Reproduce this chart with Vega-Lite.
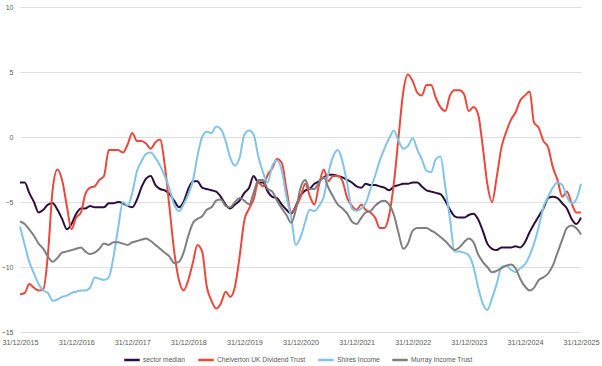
{
  "$schema": "https://vega.github.io/schema/vega-lite/v6.json",
  "width": 561,
  "height": 325,
  "autosize": {"type": "none"},
  "padding": {"left": 20, "top": 7, "right": 21, "bottom": 34},
  "background": "white",
  "config": {"view": {"stroke": null}, "font": "Liberation Sans"},
  "data": {"values": [
    {"date":"2015-12-31","sector median":-3.5,"Chelverton UK Dividend Trust":-12.1,"Shires Income":-6.9,"Murray Income Trust":-6.5},
    {"date":"2016-01-31","sector median":-3.5,"Chelverton UK Dividend Trust":-12.0,"Shires Income":-8.3,"Murray Income Trust":-6.7},
    {"date":"2016-02-29","sector median":-4.3,"Chelverton UK Dividend Trust":-11.3,"Shires Income":-9.6,"Murray Income Trust":-7.1},
    {"date":"2016-03-31","sector median":-5.0,"Chelverton UK Dividend Trust":-11.6,"Shires Income":-10.5,"Murray Income Trust":-7.6},
    {"date":"2016-04-30","sector median":-5.8,"Chelverton UK Dividend Trust":-11.8,"Shires Income":-11.3,"Murray Income Trust":-8.2},
    {"date":"2016-05-31","sector median":-5.6,"Chelverton UK Dividend Trust":-11.7,"Shires Income":-11.8,"Murray Income Trust":-8.6},
    {"date":"2016-06-30","sector median":-5.2,"Chelverton UK Dividend Trust":-9.0,"Shires Income":-12.0,"Murray Income Trust":-9.2},
    {"date":"2016-07-31","sector median":-5.1,"Chelverton UK Dividend Trust":-4.0,"Shires Income":-12.6,"Murray Income Trust":-9.6},
    {"date":"2016-08-31","sector median":-5.6,"Chelverton UK Dividend Trust":-2.5,"Shires Income":-12.5,"Murray Income Trust":-9.3},
    {"date":"2016-09-30","sector median":-6.3,"Chelverton UK Dividend Trust":-3.3,"Shires Income":-12.3,"Murray Income Trust":-8.9},
    {"date":"2016-10-31","sector median":-7.1,"Chelverton UK Dividend Trust":-5.3,"Shires Income":-12.2,"Murray Income Trust":-8.8},
    {"date":"2016-11-30","sector median":-6.7,"Chelverton UK Dividend Trust":-7.1,"Shires Income":-12.0,"Murray Income Trust":-8.7},
    {"date":"2016-12-31","sector median":-5.9,"Chelverton UK Dividend Trust":-6.2,"Shires Income":-11.9,"Murray Income Trust":-8.6},
    {"date":"2017-01-31","sector median":-5.5,"Chelverton UK Dividend Trust":-5.8,"Shires Income":-11.8,"Murray Income Trust":-8.5},
    {"date":"2017-02-28","sector median":-5.5,"Chelverton UK Dividend Trust":-4.4,"Shires Income":-11.8,"Murray Income Trust":-8.8},
    {"date":"2017-03-31","sector median":-5.3,"Chelverton UK Dividend Trust":-3.9,"Shires Income":-11.6,"Murray Income Trust":-9.0},
    {"date":"2017-04-30","sector median":-5.4,"Chelverton UK Dividend Trust":-3.8,"Shires Income":-10.8,"Murray Income Trust":-8.9},
    {"date":"2017-05-31","sector median":-5.4,"Chelverton UK Dividend Trust":-3.3,"Shires Income":-10.9,"Murray Income Trust":-8.6},
    {"date":"2017-06-30","sector median":-5.4,"Chelverton UK Dividend Trust":-3.0,"Shires Income":-11.0,"Murray Income Trust":-8.2},
    {"date":"2017-07-31","sector median":-5.1,"Chelverton UK Dividend Trust":-1.0,"Shires Income":-10.8,"Murray Income Trust":-8.3},
    {"date":"2017-08-31","sector median":-5.1,"Chelverton UK Dividend Trust":-1.0,"Shires Income":-9.2,"Murray Income Trust":-8.1},
    {"date":"2017-09-30","sector median":-5.0,"Chelverton UK Dividend Trust":-1.0,"Shires Income":-7.0,"Murray Income Trust":-8.1},
    {"date":"2017-10-31","sector median":-5.1,"Chelverton UK Dividend Trust":-1.2,"Shires Income":-5.0,"Murray Income Trust":-8.2},
    {"date":"2017-11-30","sector median":-5.3,"Chelverton UK Dividend Trust":-0.6,"Shires Income":-5.3,"Murray Income Trust":-8.3},
    {"date":"2017-12-31","sector median":-5.4,"Chelverton UK Dividend Trust":0.3,"Shires Income":-4.3,"Murray Income Trust":-8.1},
    {"date":"2018-01-31","sector median":-4.8,"Chelverton UK Dividend Trust":-0.3,"Shires Income":-2.6,"Murray Income Trust":-8.0},
    {"date":"2018-02-28","sector median":-3.9,"Chelverton UK Dividend Trust":-0.3,"Shires Income":-1.9,"Murray Income Trust":-7.9},
    {"date":"2018-03-31","sector median":-3.2,"Chelverton UK Dividend Trust":-0.5,"Shires Income":-1.3,"Murray Income Trust":-7.8},
    {"date":"2018-04-30","sector median":-3.0,"Chelverton UK Dividend Trust":-0.9,"Shires Income":-1.2,"Murray Income Trust":-8.0},
    {"date":"2018-05-31","sector median":-3.7,"Chelverton UK Dividend Trust":-0.4,"Shires Income":-1.6,"Murray Income Trust":-8.3},
    {"date":"2018-06-30","sector median":-4.0,"Chelverton UK Dividend Trust":-0.2,"Shires Income":-2.2,"Murray Income Trust":-8.6},
    {"date":"2018-07-31","sector median":-4.1,"Chelverton UK Dividend Trust":-2.2,"Shires Income":-3.0,"Murray Income Trust":-8.9},
    {"date":"2018-08-31","sector median":-4.4,"Chelverton UK Dividend Trust":-5.5,"Shires Income":-4.0,"Murray Income Trust":-9.2},
    {"date":"2018-09-30","sector median":-4.9,"Chelverton UK Dividend Trust":-8.8,"Shires Income":-5.2,"Murray Income Trust":-9.7},
    {"date":"2018-10-31","sector median":-5.4,"Chelverton UK Dividend Trust":-11.0,"Shires Income":-5.7,"Murray Income Trust":-9.6},
    {"date":"2018-11-30","sector median":-5.0,"Chelverton UK Dividend Trust":-11.8,"Shires Income":-5.2,"Murray Income Trust":-8.9},
    {"date":"2018-12-31","sector median":-4.0,"Chelverton UK Dividend Trust":-11.0,"Shires Income":-4.4,"Murray Income Trust":-7.6},
    {"date":"2019-01-31","sector median":-3.4,"Chelverton UK Dividend Trust":-9.6,"Shires Income":-3.3,"Murray Income Trust":-6.6},
    {"date":"2019-02-28","sector median":-3.4,"Chelverton UK Dividend Trust":-8.3,"Shires Income":-1.5,"Murray Income Trust":-6.3},
    {"date":"2019-03-31","sector median":-3.9,"Chelverton UK Dividend Trust":-8.8,"Shires Income":0.0,"Murray Income Trust":-6.1},
    {"date":"2019-04-30","sector median":-4.0,"Chelverton UK Dividend Trust":-11.5,"Shires Income":0.4,"Murray Income Trust":-5.6},
    {"date":"2019-05-31","sector median":-4.1,"Chelverton UK Dividend Trust":-12.6,"Shires Income":0.3,"Murray Income Trust":-5.4},
    {"date":"2019-06-30","sector median":-4.2,"Chelverton UK Dividend Trust":-13.2,"Shires Income":0.8,"Murray Income Trust":-4.9},
    {"date":"2019-07-31","sector median":-4.6,"Chelverton UK Dividend Trust":-12.8,"Shires Income":0.6,"Murray Income Trust":-4.8},
    {"date":"2019-08-31","sector median":-5.2,"Chelverton UK Dividend Trust":-11.9,"Shires Income":-0.3,"Murray Income Trust":-5.3},
    {"date":"2019-09-30","sector median":-5.5,"Chelverton UK Dividend Trust":-12.3,"Shires Income":-1.6,"Murray Income Trust":-5.4},
    {"date":"2019-10-31","sector median":-5.2,"Chelverton UK Dividend Trust":-11.5,"Shires Income":-2.2,"Murray Income Trust":-5.0},
    {"date":"2019-11-30","sector median":-4.9,"Chelverton UK Dividend Trust":-9.2,"Shires Income":-1.6,"Murray Income Trust":-4.7},
    {"date":"2019-12-31","sector median":-4.3,"Chelverton UK Dividend Trust":-6.4,"Shires Income":0.2,"Murray Income Trust":-4.9},
    {"date":"2020-01-31","sector median":-3.9,"Chelverton UK Dividend Trust":-5.5,"Shires Income":0.5,"Murray Income Trust":-5.2},
    {"date":"2020-02-29","sector median":-3.0,"Chelverton UK Dividend Trust":-4.8,"Shires Income":0.2,"Murray Income Trust":-4.3},
    {"date":"2020-03-31","sector median":-3.5,"Chelverton UK Dividend Trust":-3.5,"Shires Income":-1.5,"Murray Income Trust":-3.3},
    {"date":"2020-04-30","sector median":-3.5,"Chelverton UK Dividend Trust":-3.8,"Shires Income":-2.7,"Murray Income Trust":-3.3},
    {"date":"2020-05-31","sector median":-4.2,"Chelverton UK Dividend Trust":-2.9,"Shires Income":-3.5,"Murray Income Trust":-4.0},
    {"date":"2020-06-30","sector median":-4.6,"Chelverton UK Dividend Trust":-2.4,"Shires Income":-2.2,"Murray Income Trust":-4.2},
    {"date":"2020-07-31","sector median":-4.7,"Chelverton UK Dividend Trust":-1.7,"Shires Income":-1.8,"Murray Income Trust":-4.9},
    {"date":"2020-08-31","sector median":-5.2,"Chelverton UK Dividend Trust":-2.0,"Shires Income":-2.6,"Murray Income Trust":-5.5},
    {"date":"2020-09-30","sector median":-5.6,"Chelverton UK Dividend Trust":-4.0,"Shires Income":-4.6,"Murray Income Trust":-6.0},
    {"date":"2020-10-31","sector median":-5.9,"Chelverton UK Dividend Trust":-5.8,"Shires Income":-6.2,"Murray Income Trust":-6.6},
    {"date":"2020-11-30","sector median":-5.3,"Chelverton UK Dividend Trust":-5.4,"Shires Income":-8.3,"Murray Income Trust":-5.6},
    {"date":"2020-12-31","sector median":-4.5,"Chelverton UK Dividend Trust":-4.6,"Shires Income":-7.7,"Murray Income Trust":-3.9},
    {"date":"2021-01-31","sector median":-4.1,"Chelverton UK Dividend Trust":-3.6,"Shires Income":-6.5,"Murray Income Trust":-3.3},
    {"date":"2021-02-28","sector median":-4.0,"Chelverton UK Dividend Trust":-4.5,"Shires Income":-5.6,"Murray Income Trust":-4.0},
    {"date":"2021-03-31","sector median":-3.6,"Chelverton UK Dividend Trust":-5.2,"Shires Income":-5.7,"Murray Income Trust":-4.0},
    {"date":"2021-04-30","sector median":-3.4,"Chelverton UK Dividend Trust":-3.7,"Shires Income":-5.3,"Murray Income Trust":-3.5},
    {"date":"2021-05-31","sector median":-3.1,"Chelverton UK Dividend Trust":-2.5,"Shires Income":-4.6,"Murray Income Trust":-3.1},
    {"date":"2021-06-30","sector median":-2.9,"Chelverton UK Dividend Trust":-3.4,"Shires Income":-2.8,"Murray Income Trust":-3.9},
    {"date":"2021-07-31","sector median":-2.9,"Chelverton UK Dividend Trust":-3.0,"Shires Income":-1.5,"Murray Income Trust":-4.6},
    {"date":"2021-08-31","sector median":-3.0,"Chelverton UK Dividend Trust":-3.0,"Shires Income":-1.0,"Murray Income Trust":-5.2},
    {"date":"2021-09-30","sector median":-3.1,"Chelverton UK Dividend Trust":-3.4,"Shires Income":-1.9,"Murray Income Trust":-5.5},
    {"date":"2021-10-31","sector median":-3.3,"Chelverton UK Dividend Trust":-4.7,"Shires Income":-3.6,"Murray Income Trust":-5.9},
    {"date":"2021-11-30","sector median":-3.5,"Chelverton UK Dividend Trust":-5.3,"Shires Income":-5.5,"Murray Income Trust":-6.5},
    {"date":"2021-12-31","sector median":-3.8,"Chelverton UK Dividend Trust":-5.6,"Shires Income":-5.7,"Murray Income Trust":-6.7},
    {"date":"2022-01-31","sector median":-3.9,"Chelverton UK Dividend Trust":-5.2,"Shires Income":-5.5,"Murray Income Trust":-6.2},
    {"date":"2022-02-28","sector median":-3.6,"Chelverton UK Dividend Trust":-5.6,"Shires Income":-5.1,"Murray Income Trust":-5.8},
    {"date":"2022-03-31","sector median":-3.7,"Chelverton UK Dividend Trust":-5.8,"Shires Income":-4.0,"Murray Income Trust":-5.7},
    {"date":"2022-04-30","sector median":-3.7,"Chelverton UK Dividend Trust":-6.2,"Shires Income":-3.0,"Murray Income Trust":-5.3},
    {"date":"2022-05-31","sector median":-3.8,"Chelverton UK Dividend Trust":-7.0,"Shires Income":-1.8,"Murray Income Trust":-5.0},
    {"date":"2022-06-30","sector median":-3.9,"Chelverton UK Dividend Trust":-7.0,"Shires Income":-0.9,"Murray Income Trust":-4.9},
    {"date":"2022-07-31","sector median":-4.1,"Chelverton UK Dividend Trust":-6.0,"Shires Income":-0.1,"Murray Income Trust":-5.2},
    {"date":"2022-08-31","sector median":-3.8,"Chelverton UK Dividend Trust":-3.5,"Shires Income":0.5,"Murray Income Trust":-6.0},
    {"date":"2022-09-30","sector median":-3.7,"Chelverton UK Dividend Trust":0.0,"Shires Income":-0.3,"Murray Income Trust":-7.4},
    {"date":"2022-10-31","sector median":-3.6,"Chelverton UK Dividend Trust":3.5,"Shires Income":-0.9,"Murray Income Trust":-8.6},
    {"date":"2022-11-30","sector median":-3.6,"Chelverton UK Dividend Trust":4.8,"Shires Income":-0.7,"Murray Income Trust":-8.2},
    {"date":"2022-12-31","sector median":-3.5,"Chelverton UK Dividend Trust":4.3,"Shires Income":-0.1,"Murray Income Trust":-7.2},
    {"date":"2023-01-31","sector median":-3.5,"Chelverton UK Dividend Trust":3.4,"Shires Income":-1.0,"Murray Income Trust":-7.0},
    {"date":"2023-02-28","sector median":-3.8,"Chelverton UK Dividend Trust":3.2,"Shires Income":-1.7,"Murray Income Trust":-7.0},
    {"date":"2023-03-31","sector median":-4.1,"Chelverton UK Dividend Trust":4.0,"Shires Income":-2.6,"Murray Income Trust":-7.0},
    {"date":"2023-04-30","sector median":-4.2,"Chelverton UK Dividend Trust":4.0,"Shires Income":-2.7,"Murray Income Trust":-7.2},
    {"date":"2023-05-31","sector median":-4.3,"Chelverton UK Dividend Trust":3.0,"Shires Income":-1.7,"Murray Income Trust":-7.4},
    {"date":"2023-06-30","sector median":-4.4,"Chelverton UK Dividend Trust":2.3,"Shires Income":-1.5,"Murray Income Trust":-7.7},
    {"date":"2023-07-31","sector median":-4.9,"Chelverton UK Dividend Trust":2.0,"Shires Income":-3.8,"Murray Income Trust":-8.0},
    {"date":"2023-08-31","sector median":-5.6,"Chelverton UK Dividend Trust":3.2,"Shires Income":-6.3,"Murray Income Trust":-8.4},
    {"date":"2023-09-30","sector median":-6.1,"Chelverton UK Dividend Trust":3.6,"Shires Income":-8.8,"Murray Income Trust":-8.7},
    {"date":"2023-10-31","sector median":-6.2,"Chelverton UK Dividend Trust":3.6,"Shires Income":-8.8,"Murray Income Trust":-8.5},
    {"date":"2023-11-30","sector median":-6.2,"Chelverton UK Dividend Trust":3.3,"Shires Income":-8.9,"Murray Income Trust":-8.1},
    {"date":"2023-12-31","sector median":-6.0,"Chelverton UK Dividend Trust":2.0,"Shires Income":-9.1,"Murray Income Trust":-7.8},
    {"date":"2024-01-31","sector median":-5.9,"Chelverton UK Dividend Trust":2.3,"Shires Income":-10.0,"Murray Income Trust":-8.1},
    {"date":"2024-02-29","sector median":-6.3,"Chelverton UK Dividend Trust":1.8,"Shires Income":-11.5,"Murray Income Trust":-9.0},
    {"date":"2024-03-31","sector median":-7.2,"Chelverton UK Dividend Trust":-0.7,"Shires Income":-12.8,"Murray Income Trust":-9.6},
    {"date":"2024-04-30","sector median":-8.2,"Chelverton UK Dividend Trust":-3.6,"Shires Income":-13.3,"Murray Income Trust":-10.0},
    {"date":"2024-05-31","sector median":-8.6,"Chelverton UK Dividend Trust":-5.0,"Shires Income":-12.4,"Murray Income Trust":-10.4},
    {"date":"2024-06-30","sector median":-8.7,"Chelverton UK Dividend Trust":-3.1,"Shires Income":-11.3,"Murray Income Trust":-10.3},
    {"date":"2024-07-31","sector median":-8.5,"Chelverton UK Dividend Trust":-0.8,"Shires Income":-10.0,"Murray Income Trust":-10.1},
    {"date":"2024-08-31","sector median":-8.5,"Chelverton UK Dividend Trust":0.4,"Shires Income":-9.9,"Murray Income Trust":-9.9},
    {"date":"2024-09-30","sector median":-8.5,"Chelverton UK Dividend Trust":1.3,"Shires Income":-10.2,"Murray Income Trust":-9.8},
    {"date":"2024-10-31","sector median":-8.4,"Chelverton UK Dividend Trust":1.9,"Shires Income":-10.4,"Murray Income Trust":-10.1},
    {"date":"2024-11-30","sector median":-8.5,"Chelverton UK Dividend Trust":2.8,"Shires Income":-10.1,"Murray Income Trust":-10.9},
    {"date":"2024-12-31","sector median":-8.1,"Chelverton UK Dividend Trust":3.2,"Shires Income":-9.8,"Murray Income Trust":-11.5},
    {"date":"2025-01-31","sector median":-7.3,"Chelverton UK Dividend Trust":3.5,"Shires Income":-9.1,"Murray Income Trust":-11.8},
    {"date":"2025-02-28","sector median":-6.7,"Chelverton UK Dividend Trust":1.1,"Shires Income":-8.2,"Murray Income Trust":-11.6},
    {"date":"2025-03-31","sector median":-6.1,"Chelverton UK Dividend Trust":0.7,"Shires Income":-6.9,"Murray Income Trust":-11.0},
    {"date":"2025-04-30","sector median":-5.5,"Chelverton UK Dividend Trust":-0.3,"Shires Income":-5.4,"Murray Income Trust":-10.8},
    {"date":"2025-05-31","sector median":-4.7,"Chelverton UK Dividend Trust":-0.8,"Shires Income":-4.6,"Murray Income Trust":-10.5},
    {"date":"2025-06-30","sector median":-4.6,"Chelverton UK Dividend Trust":-2.3,"Shires Income":-3.9,"Murray Income Trust":-9.9},
    {"date":"2025-07-31","sector median":-4.7,"Chelverton UK Dividend Trust":-3.3,"Shires Income":-3.5,"Murray Income Trust":-8.9},
    {"date":"2025-08-31","sector median":-5.1,"Chelverton UK Dividend Trust":-4.6,"Shires Income":-3.7,"Murray Income Trust":-7.9},
    {"date":"2025-09-30","sector median":-5.5,"Chelverton UK Dividend Trust":-4.2,"Shires Income":-4.6,"Murray Income Trust":-7.0},
    {"date":"2025-10-31","sector median":-6.3,"Chelverton UK Dividend Trust":-5.1,"Shires Income":-5.1,"Murray Income Trust":-6.8},
    {"date":"2025-11-30","sector median":-6.7,"Chelverton UK Dividend Trust":-5.8,"Shires Income":-4.8,"Murray Income Trust":-7.0},
    {"date":"2025-12-31","sector median":-6.2,"Chelverton UK Dividend Trust":-5.8,"Shires Income":-3.6,"Murray Income Trust":-7.5}
  ]},
  "transform": [
    {"fold": ["sector median", "Chelverton UK Dividend Trust", "Shires Income", "Murray Income Trust"], "as": ["series", "value"]}
  ],
  "mark": {"type": "line", "strokeWidth": 2, "interpolate": "monotone"},
  "encoding": {
    "x": {
      "field": "date",
      "type": "temporal",
      "scale": {"type": "utc", "domain": [{"year": 2015, "month": 12, "date": 31, "utc": true}, {"year": 2025, "month": 12, "date": 31, "utc": true}]},
      "axis": {
        "values": [
          {"year": 2015, "month": 12, "date": 31, "utc": true},
          {"year": 2016, "month": 12, "date": 31, "utc": true},
          {"year": 2017, "month": 12, "date": 31, "utc": true},
          {"year": 2018, "month": 12, "date": 31, "utc": true},
          {"year": 2019, "month": 12, "date": 31, "utc": true},
          {"year": 2020, "month": 12, "date": 31, "utc": true},
          {"year": 2021, "month": 12, "date": 31, "utc": true},
          {"year": 2022, "month": 12, "date": 31, "utc": true},
          {"year": 2023, "month": 12, "date": 31, "utc": true},
          {"year": 2024, "month": 12, "date": 31, "utc": true},
          {"year": 2025, "month": 12, "date": 31, "utc": true}
        ],
        "labelExpr": "utcFormat(datum.value, '%d/%m/%Y')",
        "title": null,
        "grid": false,
        "domain": false,
        "ticks": false,
        "labelPadding": 6,
        "labelFontSize": 7.2,
        "labelColor": "#595959",
        "labelOverlap": false,
        "labelBound": false,
        "labelFlush": false
      }
    },
    "y": {
      "field": "value",
      "type": "quantitative",
      "scale": {"domain": [-15, 10], "nice": false, "zero": false},
      "axis": {
        "values": [-15, -10, -5, 0, 5, 10],
        "title": null,
        "domain": false,
        "ticks": false,
        "gridColor": "#dedede",
        "gridWidth": 1,
        "labelColor": "#595959",
        "labelFontSize": 7,
        "labelPadding": 7
      }
    },
    "color": {
      "field": "series",
      "type": "nominal",
      "scale": {
        "domain": ["sector median", "Chelverton UK Dividend Trust", "Shires Income", "Murray Income Trust"],
        "range": ["#2a0f3a", "#e9493c", "#82c4e8", "#7f7f7f"]
      },
      "legend": {
        "orient": "none",
        "legendX": 103,
        "legendY": 344,
        "direction": "horizontal",
        "title": null,
        "symbolType": "stroke",
        "symbolSize": 240,
        "symbolStrokeWidth": 2.5,
        "labelFontSize": 6.7,
        "labelColor": "#595959",
        "labelOffset": 2,
        "columnPadding": 7
      }
    }
  }
}
